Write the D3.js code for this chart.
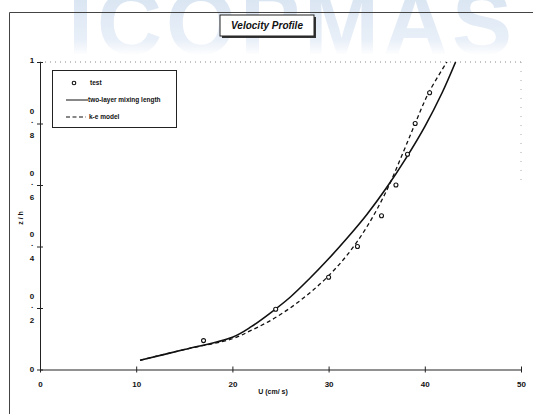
<!DOCTYPE html>
<html>
<head>
<meta charset="utf-8">
<script src="https://cdn.jsdelivr.net/npm/d3@7"></script>
<style>
  body { margin: 0; background: #fff; }
  text { font-family: "Liberation Sans", Arial, sans-serif; fill: #111; }
</style>
</head>
<body>
<div id="viz"></div>
<script>
(function() {

// measured test points
var testU = [17, 24.5, 30, 33, 35.5, 37, 38.2, 39, 40.5],
    testZ = [0.094, 0.196, 0.3, 0.4, 0.5, 0.6, 0.7, 0.8, 0.9];

// two-layer mixing length
var mixU = [10.4, 15, 20, 22, 24, 26, 28, 30, 32, 34, 36, 38, 40, 41.8, 43.2],
    mixZ = [0.03, 0.065, 0.105, 0.14, 0.185, 0.235, 0.295, 0.36, 0.43, 0.505, 0.59, 0.685, 0.79, 0.9, 1.0];

// k-e model
var keU = [10.4, 15, 20, 22, 24, 26, 28, 30, 32, 34, 36, 37.8, 39, 40.4, 42.3],
    keZ = [0.03, 0.065, 0.1, 0.128, 0.16, 0.2, 0.248, 0.305, 0.375, 0.465, 0.58, 0.71, 0.8, 0.9, 1.0];

var xTicks = [0, 10, 20, 30, 40, 50],
    yTicks = [0, 0.2, 0.4, 0.6, 0.8, 1];
var legendNames = ["test", "two-layer mixing length", "k-e model"];

var W = 533, H = 414;
var svg = d3.select("#viz").append("svg")
    .attr("width", W).attr("height", H);

// faint watermark
var defs = svg.append("defs");
var grad = defs.append("linearGradient").attr("id", "wm")
    .attr("gradientUnits", "userSpaceOnUse")
    .attr("x1", 0).attr("y1", 0).attr("x2", 0).attr("y2", 56);
grad.append("stop").attr("offset", "0%").attr("stop-color", "#dbe6f3");
grad.append("stop").attr("offset", "70%").attr("stop-color", "#e8eff8");
grad.append("stop").attr("offset", "100%").attr("stop-color", "#ffffff");
svg.append("text")
    .attr("x", 68).attr("y", 54)
    .style("font-size", "90px").style("font-weight", "bold")
    .style("letter-spacing", "4px")
    .style("fill", "url(#wm)")
    .text("ICOPMAS");

var x = d3.scaleLinear().domain([0, 50]).range([40, 521]);
var y = d3.scaleLinear().domain([0, 1]).range([369.5, 62]);

// outer frame
svg.append("path")
    .attr("d", "M9.5," + H + "V12.5H" + W)
    .attr("fill", "none").attr("stroke", "#444").attr("stroke-width", 1);

// dotted top / right
svg.append("line")
    .attr("x1", x(0)).attr("x2", x(50)).attr("y1", y(1)).attr("y2", y(1))
    .attr("stroke", "#888").attr("stroke-dasharray", "1,4");
svg.append("line")
    .attr("x1", x(50)).attr("x2", x(50)).attr("y1", y(1)).attr("y2", y(0.6))
    .attr("stroke", "#aaa").attr("stroke-dasharray", "1,8");

// x axis
var xAxis = svg.append("g")
    .attr("transform", "translate(0," + y(0) + ")")
    .call(d3.axisBottom(x).tickValues(xTicks).tickSize(3).tickSizeOuter(0).tickFormat(d3.format("d")));
xAxis.select(".domain").attr("stroke", "#222");
xAxis.selectAll(".tick line").attr("y1", -3).attr("stroke", "#222");
xAxis.selectAll(".tick text")
    .attr("y", 12).style("font-size", "8px").style("font-weight", "bold")
    .attr("fill", "#111").attr("font-family", null);

// y axis (labels drawn stacked, like the scan)
var yAxis = svg.append("g")
    .attr("transform", "translate(" + x(0) + ",0)")
    .call(d3.axisLeft(y).tickValues(yTicks).tickSize(3).tickSizeOuter(0).tickFormat(""));
yAxis.select(".domain").attr("stroke", "#222");
yAxis.selectAll(".tick line").attr("x1", -3).attr("x2", 3).attr("stroke", "#222");

yTicks.forEach(function(t) {
    var s = String(t);
    var g = svg.append("g").attr("transform", "translate(32," + y(t) + ")");
    if (s.length === 1) {
        g.append("text").attr("text-anchor", "middle").attr("dy", t === 1 ? "0.1em" : "0.35em")
            .style("font-size", "8px").style("font-weight", "bold").text(s);
    } else {
        var parts = s.split("");
        [-12, -3, 12].forEach(function(dy, i) {
            g.append("text").attr("text-anchor", "middle").attr("y", dy).attr("dy", "0.35em")
                .style("font-size", "8px").style("font-weight", "bold").text(parts[i]);
        });
    }
});

// axis titles
svg.append("text")
    .attr("x", 273).attr("y", 394).attr("text-anchor", "middle")
    .style("font-size", "7px").style("font-weight", "bold")
    .text("U (cm/ s)");
svg.append("text")
    .attr("transform", "translate(23,218) rotate(-90)")
    .attr("text-anchor", "middle")
    .style("font-size", "7px").style("font-weight", "bold")
    .text("z / h");

// curves
var line = d3.line()
    .x(function(d) { return x(d[0]); })
    .y(function(d) { return y(d[1]); })
    .curve(d3.curveCatmullRom);

svg.append("path")
    .datum(d3.zip(mixU, mixZ))
    .attr("d", line)
    .attr("fill", "none").attr("stroke", "#111").attr("stroke-width", 1.6);

svg.append("path")
    .datum(d3.zip(keU, keZ))
    .attr("d", line)
    .attr("fill", "none").attr("stroke", "#111").attr("stroke-width", 1.3)
    .attr("stroke-dasharray", "4,3");

svg.selectAll("circle.test")
    .data(d3.zip(testU, testZ))
    .enter().append("circle")
    .attr("class", "test")
    .attr("cx", function(d) { return x(d[0]); })
    .attr("cy", function(d) { return y(d[1]); })
    .attr("r", 2)
    .attr("fill", "#fff").attr("stroke", "#111").attr("stroke-width", 1.1);

// title box
var tg = svg.append("g");
tg.append("rect").attr("x", 222).attr("y", 17).attr("width", 94).attr("height", 21)
    .attr("fill", "#333");
tg.append("rect").attr("x", 220).attr("y", 15).attr("width", 94).attr("height", 21)
    .attr("fill", "#fff").attr("stroke", "#222").attr("stroke-width", 1);
tg.append("text").attr("x", 267).attr("y", 29).attr("text-anchor", "middle")
    .style("font-size", "10px").style("font-weight", "bold").style("font-style", "italic")
    .text("Velocity Profile");

// legend
var lg = svg.append("g");
lg.append("rect").attr("x", 52.5).attr("y", 70.5).attr("width", 124).attr("height", 57)
    .attr("fill", "#fff").attr("stroke", "#222").attr("stroke-width", 1);
var rows = [83, 100, 117];
lg.append("circle").attr("cx", 74).attr("cy", rows[0]).attr("r", 1.8)
    .attr("fill", "#fff").attr("stroke", "#111").attr("stroke-width", 1.1);
lg.append("line").attr("x1", 66).attr("x2", 88).attr("y1", rows[1]).attr("y2", rows[1])
    .attr("stroke", "#111").attr("stroke-width", 1);
lg.append("line").attr("x1", 66).attr("x2", 86).attr("y1", rows[2]).attr("y2", rows[2])
    .attr("stroke", "#111").attr("stroke-width", 1.2).attr("stroke-dasharray", "4,2.5");
[90, 88, 89].forEach(function(tx, i) {
    lg.append("text").attr("x", tx).attr("y", rows[i]).attr("dy", "0.35em")
        .style("font-size", "6.5px").style("font-weight", "bold")
        .text(legendNames[i]);
});

})();
</script>
</body>
</html>
